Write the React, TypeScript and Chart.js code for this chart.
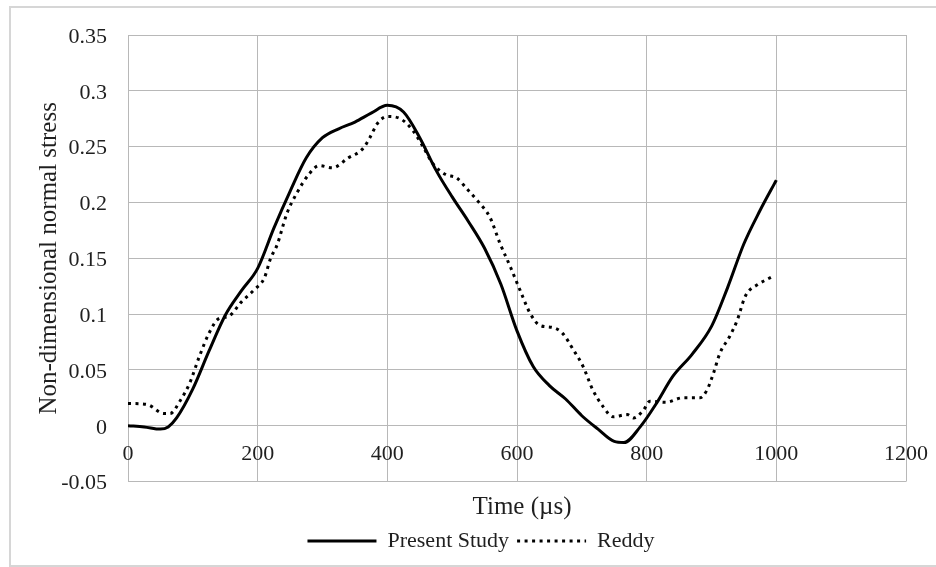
import React, { useEffect, useRef } from 'react';
import { Chart, registerables } from 'chart.js';

Chart.register(...registerables);

// ---- data ----
const presentTime = [0, 25, 50, 62, 75, 100, 125, 150, 175, 200, 225, 250, 275, 300, 325, 350, 375, 400, 425, 450, 475, 500, 525, 550, 575, 600, 625, 650, 675, 700, 725, 750, 765, 790, 815, 840, 870, 900, 925, 950, 975, 1000];
const presentStress = [0, -0.001, -0.003, -0.001, 0.007, 0.033, 0.067, 0.099, 0.121, 0.141, 0.177, 0.21, 0.24, 0.258, 0.266, 0.272, 0.28, 0.287, 0.281, 0.258, 0.229, 0.205, 0.183, 0.159, 0.127, 0.085, 0.053, 0.036, 0.024, 0.009, -0.003, -0.014, -0.015, -0.001, 0.02, 0.044, 0.064, 0.089, 0.124, 0.163, 0.193, 0.22];

const reddyTime = [0, 30, 55, 65, 80, 95, 110, 125, 140, 155, 175, 195, 210, 220, 230, 245, 260, 280, 295, 315, 340, 362, 373, 385, 400, 420, 440, 455, 470, 490, 507, 523, 540, 558, 574, 590, 605, 620, 635, 655, 670, 687, 702, 717, 733, 748, 770, 780, 795, 805, 830, 855, 882, 893, 903, 913, 928, 940, 950, 955, 970, 995];
const reddyStress = [0.02, 0.019, 0.011, 0.011, 0.022, 0.038, 0.062, 0.083, 0.096, 0.098, 0.111, 0.122, 0.132, 0.15, 0.162, 0.19, 0.208, 0.226, 0.233, 0.231, 0.24, 0.248, 0.258, 0.271, 0.277, 0.275, 0.264, 0.25, 0.235, 0.225, 0.222, 0.212, 0.201, 0.187, 0.163, 0.142, 0.121, 0.101, 0.09, 0.088, 0.083, 0.068, 0.053, 0.032, 0.017, 0.008, 0.01, 0.007, 0.014, 0.022, 0.021, 0.025, 0.025, 0.032, 0.047, 0.065, 0.08, 0.095, 0.113, 0.119, 0.126, 0.134];

const seriesNames = ['Present Study', 'Reddy'];
const xTickValues = [0, 200, 400, 600, 800, 1000, 1200];
const xTickLabels = ['0', '200', '400', '600', '800', '1000', '1200'];
const yTickValues = [-0.05, 0, 0.05, 0.1, 0.15, 0.2, 0.25, 0.3, 0.35];
const yTickLabels = ['-0.05', '0', '0.05', '0.1', '0.15', '0.2', '0.25', '0.3', '0.35'];
const xTitle = 'Time (\u00b5s)';
const yTitle = 'Non-dimensional normal stress';

const FONT = "'Liberation Serif', 'Times New Roman', serif";
const TEXT = '#1f1f1f';
const GRID = '#b8b8b8';

const shiftBoxes = {
  id: 'shiftBoxes',
  afterLayout(chart: any) {
    const lg = chart.legend;
    if (lg) {
      lg.left += 28;
      lg.right += 28;
    }
    const t = chart.titleBlock;
    if (t) {
      t.left += 5;
      t.right += 5;
    }
  },
};

export default function App() {
  const ref = useRef<HTMLCanvasElement | null>(null);

  useEffect(() => {
    if (!ref.current) return;
    const chart = new Chart(ref.current, {
      type: 'line',
      data: {
        datasets: [
          {
            label: seriesNames[0],
            data: presentTime.map((t, i) => ({ x: t, y: presentStress[i] })),
            borderColor: '#000',
            backgroundColor: '#000',
            borderWidth: 3,
            borderCapStyle: 'butt',
            pointRadius: 0,
            cubicInterpolationMode: 'monotone',
            fill: false,
          },
          {
            label: seriesNames[1],
            data: reddyTime.map((t, i) => ({ x: t, y: reddyStress[i] })),
            borderColor: '#000',
            backgroundColor: '#000',
            borderWidth: 3,
            borderDash: [3, 4.5],
            borderCapStyle: 'butt',
            pointRadius: 0,
            cubicInterpolationMode: 'monotone',
            fill: false,
          },
        ],
      },
      options: {
        responsive: false,
        animation: false,
        devicePixelRatio: 1,
        layout: { padding: { left: 0, top: 35, right: 30, bottom: 5 } },
        scales: {
          x: {
            type: 'linear',
            min: 0,
            max: 1200,
            position: { y: 0 } as any,
            afterBuildTicks: (s: any) => {
              s.ticks = xTickValues.map((v) => ({ value: v }));
            },
            afterFit: (s: any) => {
              s.height = 0;
              s.paddingLeft = 0;
              s.paddingRight = 0;
            },
            grid: { color: GRID, lineWidth: 1, drawTicks: false },
            border: { display: false },
            ticks: {
              padding: 15,
              autoSkip: false,
              maxRotation: 0,
              font: { family: FONT, size: 22 },
              color: TEXT,
              callback: (_v: any, i: number) => xTickLabels[i],
            },
          },
          y: {
            type: 'linear',
            min: -0.05,
            max: 0.35,
            position: 'left',
            afterBuildTicks: (s: any) => {
              s.ticks = yTickValues.map((v) => ({ value: v }));
            },
            afterFit: (s: any) => {
              s.width = 128;
            },
            grid: { color: GRID, lineWidth: 1, drawTicks: false },
            border: { display: false },
            ticks: {
              padding: 21,
              labelOffset: 2,
              autoSkip: false,
              font: { family: FONT, size: 22 },
              color: TEXT,
              callback: (_v: any, i: number) => yTickLabels[i],
            },
            title: {
              display: true,
              text: yTitle,
              color: TEXT,
              font: { family: FONT, size: 25, weight: 'normal' },
              padding: { top: 34, bottom: 0 },
            },
          },
        },
        plugins: {
          tooltip: { enabled: false },
          title: {
            display: true,
            text: xTitle,
            position: 'bottom',
            fullSize: false,
            weight: 500,
            color: TEXT,
            font: { family: FONT, size: 25, weight: 'normal' },
            padding: { top: 10.4, bottom: 0 },
          },
          legend: {
            display: true,
            position: 'bottom',
            labels: {
              usePointStyle: false,
              boxWidth: 69,
              boxHeight: 0,
              padding: 8,
              color: TEXT,
              font: { family: FONT, size: 22 },
            },
          },
        },
      } as any,
      plugins: [shiftBoxes],
    });
    return () => chart.destroy();
  }, []);

  return (
    <div
      style={{
        position: 'fixed',
        left: 0,
        top: 0,
        width: 936,
        height: 567,
        background: '#ffffff',
        overflow: 'hidden',
      }}
    >
      <div
        style={{
          position: 'absolute',
          left: 9,
          top: 6,
          width: 1000,
          height: 557,
          border: '2px solid #d6d6d6',
        }}
      />
      <canvas
        ref={ref}
        width={936}
        height={567}
        style={{ position: 'absolute', left: 0, top: 0, width: 936, height: 567 }}
      />
    </div>
  );
}
